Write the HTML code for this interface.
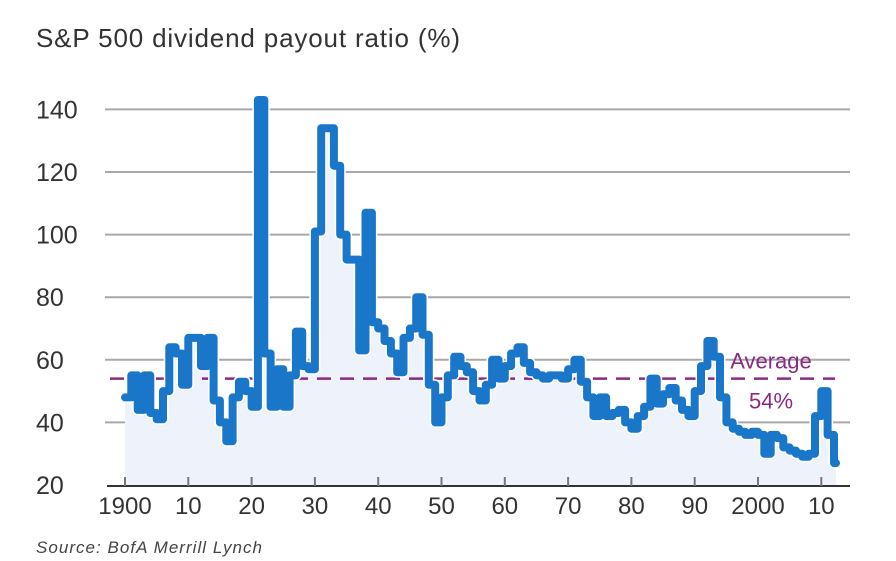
<!DOCTYPE html>
<html><head><meta charset="utf-8"><style>
html,body{margin:0;padding:0;background:#fff;}
svg{display:block;font-family:"Liberation Sans",sans-serif;}
</style></head><body>
<svg width="896" height="561" viewBox="0 0 896 561">
<text x="36" y="47" font-size="26" fill="#333" textLength="424">S&amp;P 500 dividend payout ratio (%)</text>
<g id="grid"></g>
<g id="area"></g>
<g id="avg"></g>
<g id="series"></g>
<g id="axis"></g>
<text x="36" y="553" font-size="17" font-style="italic" fill="#444" textLength="226">Source: BofA Merrill Lynch</text>
</svg>
<script>
const years=[];for(let y=1900;y<=2012;y++)years.push(y);
const payout=[48,55,44,55,43,41,50,64,62,52,67,67,58,67,47,40,34,48,53,50,45,143,62,45,57,45,55,69,58,57,101,134,134,122,100,92,92,63,107,72,70,66,62,56,67,70,80,68,52,40,48,55,61,58,56,50,47,52,60,54,58,62,64,59,56,55,54,55,55,54,57,60,53,48,42,48,42,43,44,40,38,42,45,54,46,49,51,47,44,42,50,58,66,61,48,40,38,37,36,37,36,30,36,35,32,31,30,29,30,42,50,36,27];
const yTicks=[20,40,60,80,100,120,140];
const xTickYears=[1900,1910,1920,1930,1940,1950,1960,1970,1980,1990,2000,2010];
const xTickLabels=["1900","10","20","30","40","50","60","70","80","90","2000","10"];
const average=[54];
const averageLabel=["Average","54%"];
const NS="http://www.w3.org/2000/svg";
const X=y=>125+(y-1900)*6.33;
const Y=v=>485-(v-20)*3.13;
function mk(tag,attrs,parent){const e=document.createElementNS(NS,tag);for(const k in attrs)e.setAttribute(k,attrs[k]);document.getElementById(parent).appendChild(e);return e;}
yTicks.forEach(v=>{
  if(v>20){const l=mk('line',{x1:105,x2:850,y1:Y(v),y2:Y(v),stroke:'#a8a8a8','stroke-width':2},'grid');
  
  }
  const t=mk('text',{x:36,y:Y(v)+9,'font-size':25,fill:'#333'},'grid');
  t.textContent=v;
  
  
});
// stepped series: each year holds its value until the next year
let pts=[];
years.forEach((y,i)=>{
  const v=payout[i];
  pts.push(X(y).toFixed(1)+','+Y(v).toFixed(1));
  const nx=(i<years.length-1)?X(years[i+1]):X(y)+2;
  pts.push(nx.toFixed(1)+','+Y(v).toFixed(1));
});
const area=mk('polygon',{points:X(years[0])+','+Y(20)+' '+pts.join(' ')+' '+(X(years[years.length-1])+2)+','+Y(20),fill:'#eef2fa'},'area');


const halo=mk('polyline',{points:pts.join(' '),fill:'none',stroke:'#fff','stroke-width':11,'stroke-linejoin':'round'},'series');


const line=mk('polyline',{points:pts.join(' '),fill:'none',stroke:'#1a76c9','stroke-width':8,'stroke-linejoin':'round','stroke-linecap':'round'},'series');


const al=mk('line',{x1:110,x2:835,y1:Y(average[0]),y2:Y(average[0]),stroke:'#8a2a80','stroke-width':2.5,'stroke-dasharray':'14,9'},'avg');


const a1=mk('text',{x:771,y:Y(average[0])-10,'font-size':22,fill:'#8a2a80','text-anchor':'middle'},'avg');
a1.textContent=averageLabel[0];


const a2=mk('text',{x:771,y:Y(average[0])+30,'font-size':22,fill:'#8a2a80','text-anchor':'middle'},'avg');
a2.textContent=averageLabel[1];


const base=mk('line',{x1:107,x2:850,y1:486,y2:486,stroke:'#333','stroke-width':2},'axis');


xTickYears.forEach((y,i)=>{
  const tk=mk('line',{x1:X(y),x2:X(y),y1:477,y2:486,stroke:'#777','stroke-width':2},'axis');
  
  
  const t=mk('text',{x:X(y),y:514,'font-size':24,fill:'#333','text-anchor':'middle'},'axis');
  t.textContent=xTickLabels[i];
  
  
});
</script>
</body></html>
